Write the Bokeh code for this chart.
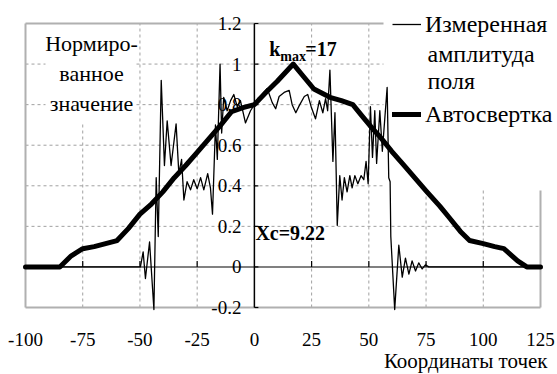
from bokeh.plotting import figure
from bokeh.models import Range1d, Legend, LegendItem
from bokeh.core.properties import value
from bokeh.embed import file_html
from bokeh.resources import INLINE

# Measured field amplitude (thin line)
meas_x = [-100, -49.8, -48.6, -47.6, -45.8, -43.9, -42.9, -42.0, -40.7, -39.3, -38.1, -36.4,
          -34.2, -33.0, -31.8, -30.8, -29.4, -27.9, -26.5, -25.0, -23.5, -22.1, -20.4, -19.2,
          -18.3, -17.0, -16.2, -15.0, -14.3, -13.4, -11.9, -10.4, -9.0, -7.5, -6.1, -3.9, -1.7,
          0.0, 1.5, 3.4, 5.6, 7.8, 9.3, 10.8, 13.0, 15.2, 16.5, 18.1, 19.6, 21.8, 23.3, 24.8,
          26.7, 28.4, 29.9, 31.1, 32.0, 33.0, 34.3, 35.2, 36.2, 37.3, 38.3, 39.3, 40.5, 41.7,
          42.7, 43.9, 45.2, 46.6, 47.8, 48.8, 49.7, 50.7, 51.6, 52.6, 53.4, 54.8, 55.9, 58.0,
          58.7, 59.3, 59.6, 61.3, 63.1, 64.6, 66.0, 67.5, 68.9, 70.4, 71.8, 73.3, 74.7, 76.2, 125]
meas_y = [0, 0, 0.074, -0.057, 0.123, -0.21, 0.44, 0.15, 0.92, 0.50, 0.72, 0.50,
          0.705, 0.46, 0.53, 0.33, 0.42, 0.38, 0.43, 0.385, 0.44, 0.38, 0.46, 0.39,
          0.26, 0.70, 0.53, 1.0, 0.66, 0.836, 0.77, 0.82, 0.85, 0.79, 0.82, 0.71, 0.77,
          0.80, 0.83, 0.85, 0.88, 0.81, 0.78, 0.84, 0.86, 0.87, 0.80, 0.76, 0.795, 0.84, 0.85, 0.79,
          0.73, 0.82, 0.76, 0.83, 0.77, 0.97, 0.52, 0.76, 0.205, 0.45, 0.33, 0.44, 0.37, 0.45,
          0.39, 0.45, 0.41, 0.45, 0.43, 0.52, 0.41, 0.79, 0.54, 0.77, 0.51, 0.77, 0.57, 0.885,
          0.44, 0.42, 0.15, -0.21, 0.107, -0.05, 0.043, -0.035, 0.03, -0.02, 0.02, -0.01, 0.01, 0, 0]

# Autoconvolution (thick line)
conv_x = [-100, -85, -80, -75, -70, -65, -60, -55, -50, -45, -40, -35, -30, -25, -20, -15, -10,
          -5, 0, 5, 10, 17, 21, 26, 33, 38, 43, 47, 51, 55, 60, 65, 70, 75, 81, 85, 90, 94, 100,
          105, 109, 115, 119, 125]
conv_y = [0, 0, 0.055, 0.09, 0.10, 0.115, 0.13, 0.19, 0.26, 0.31, 0.37, 0.44, 0.50, 0.565,
          0.63, 0.695, 0.765, 0.785, 0.80, 0.86, 0.915, 1.0, 0.945, 0.877, 0.836, 0.82, 0.80,
          0.745, 0.69, 0.64, 0.57, 0.505, 0.44, 0.375, 0.30, 0.245, 0.175, 0.13, 0.115, 0.10,
          0.09, 0.03, 0.0, 0.0]

x_ticks = [-100, -75, -50, -25, 0, 25, 50, 75, 100, 125]
x_tick_labels = ["-100", "-75", "-50", "-25", "0", "25", "50", "75", "100", "125"]
y_ticks = [-0.2, 0, 0.2, 0.4, 0.6, 0.8, 1, 1.2]
y_tick_labels = ["-0.2", "0", "0.2", "0.4", "0.6", "0.8", "1", "1.2"]
x_title = "Координаты точек"
caption = ["Нормиро-", "ванное", "значение"]
legend_labels = ["Измеренная", "Автосвертка"]
legend_extra = ["амплитуда", "поля"]
k_max = 17
k_max_value = 1.0
x_c = 9.22

x_lo, x_hi = x_ticks[0], x_ticks[-1]
y_lo, y_hi = y_ticks[0], y_ticks[-1]

FONT = "Liberation Serif"

# page geometry: plotting box inside a 557 x 374 canvas
W, H = 557, 374
LEFT, RIGHT, TOP, BOTTOM = 25, 17, 23, 67
sx = (W - LEFT - RIGHT) / (x_hi - x_lo)
sy = (H - TOP - BOTTOM) / (y_hi - y_lo)

# areas kept free of grid lines: caption (upper left) and legend (upper right)
cap_l, cap_r, cap_b = x_lo + 20 / sx, x_lo + 111 / sx, y_hi - 99 / sy
leg_l, leg_b = x_lo + 358 / sx, y_hi - 167 / sy

p = figure(width=W, height=H, output_backend="svg", toolbar_location=None,
           x_range=Range1d(x_lo - LEFT / sx, x_hi + RIGHT / sx),
           y_range=Range1d(y_lo - BOTTOM / sy, y_hi + TOP / sy),
           x_axis_location=None, y_axis_location=None, min_border=0)
p.outline_line_color = None
p.xgrid.visible = False
p.ygrid.visible = False
p.background_fill_color = "white"
p.border_fill_color = "white"


def txt(size, bold=False, align="left", baseline="middle"):
    return dict(text_font=value(FONT), text_font_size=value(size), text_color="black",
                text_align=align, text_baseline=baseline,
                text_font_style="bold" if bold else "normal")


def piece(a, b, **style):
    # one straight stroke between two data points
    p.line([a[0], b[0]], [a[1], b[1]], **style)


# dashed grid, interrupted behind the caption and the legend
grid_style = dict(line_color="#a0a0a0", line_width=1, line_dash="3 3")
for t in x_ticks[1:-1]:
    if t == 0:
        continue
    top = cap_b if cap_l < t < cap_r else (leg_b if t > leg_l else y_hi)
    piece((t, y_lo), (t, top), **grid_style)
for t in y_ticks[1:-1]:
    if t == 0:
        continue
    right = leg_l if t > leg_b else x_hi
    if t > cap_b:
        piece((x_lo, t), (cap_l, t), **grid_style)
        piece((cap_r, t), (right, t), **grid_style)
    else:
        piece((x_lo, t), (right, t), **grid_style)

# plot area border (hidden behind the legend)
border_style = dict(line_color="#b0b0b0", line_width=2)
piece((x_lo, y_lo), (x_hi, y_lo), **border_style)
piece((x_lo, y_lo), (x_lo, y_hi), **border_style)
piece((x_lo, y_hi), (leg_l, y_hi), **border_style)
piece((x_hi, y_lo), (x_hi, leg_b), **border_style)

# zero line
p.segment(x0=[x_lo], y0=[0], x1=[x_hi], y1=[0], line_color="#808080", line_width=2)

# data
thin = p.line(meas_x, meas_y, line_color="black", line_width=1.3, line_join="round")
thick = p.line(conv_x, conv_y, line_color="black", line_width=5, line_join="round",
               line_cap="round")

# vertical axis through x = 0 with inward ticks, tick marks on the zero line
p.segment(x0=[0], y0=[y_lo], x1=[0], y1=[y_hi], line_color="black", line_width=1.5)
tick_style = dict(line_color="black", line_width=1.2)
for t in y_ticks:
    piece((0, t), (4 / sx, t), **tick_style)
for t in x_ticks[1:-1]:
    if t != 0:
        piece((t, 0), (t, 6 / sy), **tick_style)

# tick labels
p.text(x=[0] * len(y_ticks), y=y_ticks, text=y_tick_labels, x_offset=-13,
       **txt("19px", align="right"))
p.text(x=x_ticks, y=[y_lo] * len(x_ticks), text=x_tick_labels, y_offset=32,
       **txt("19px", align="center"))
p.text(x=[x_hi], y=[y_lo], text=[x_title], x_offset=7, y_offset=53,
       **txt("21px", align="right"))

# caption in the upper left corner
p.text(x=[x_lo] * 3, y=[y_hi] * 3, text=caption, x_offset=66, y_offset=[20, 50, 80],
       **txt("22px", align="center"))

# peak annotation k_max = 17
p.text(x=[k_max], y=[k_max_value], text=["k"], x_offset=-24, y_offset=-15,
       **txt("20px", bold=True, baseline="alphabetic"))
p.text(x=[k_max], y=[k_max_value], text=["max"], x_offset=-13, y_offset=-8,
       **txt("14px", bold=True, baseline="alphabetic"))
p.text(x=[k_max], y=[k_max_value], text=["=%d" % k_max], x_offset=12, y_offset=-15,
       **txt("20px", bold=True, baseline="alphabetic"))

# centre of mass annotation
p.text(x=[0], y=[0], text=["Xc=%s" % x_c], x_offset=1, y_offset=-34,
       **txt("20px", bold=True, baseline="alphabetic"))

# legend
legend = Legend(items=[LegendItem(label=legend_labels[0], renderers=[thin]),
                       LegendItem(label=legend_labels[1], renderers=[thick])],
                location=(392, 246), orientation="vertical",
                label_text_font=FONT, label_text_font_size="24px",
                label_text_color="black",
                glyph_width=29, glyph_height=28, label_height=28, label_standoff=4,
                spacing=62, padding=10, margin=0, border_line_color=None,
                background_fill_alpha=0)
p.add_layout(legend)
p.text(x=[x_hi] * 2, y=[y_hi] * 2, text=legend_extra, x_offset=-113, y_offset=[30, 57],
       **txt("24px"))

open("out.html", "w").write(file_html(p, INLINE))
